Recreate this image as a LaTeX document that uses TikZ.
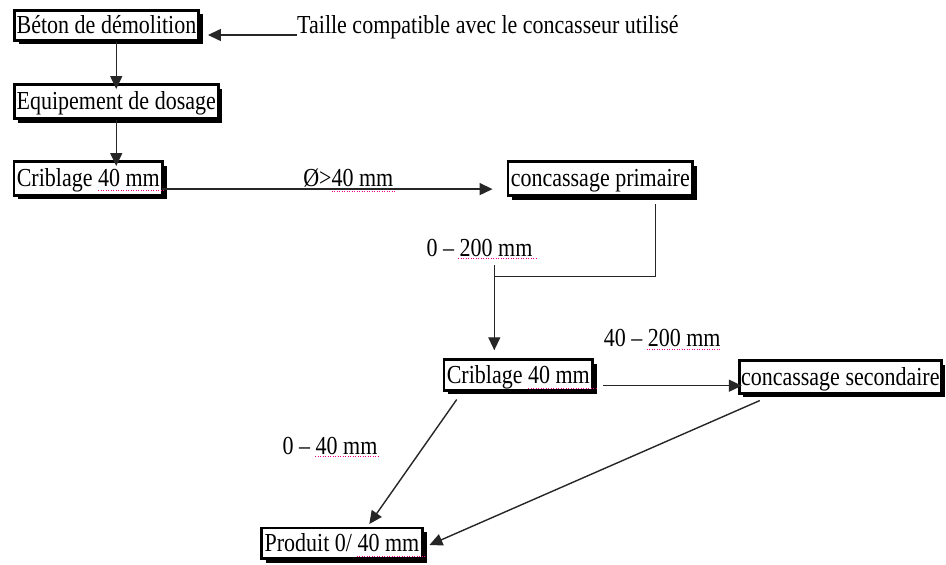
\documentclass[tikz,border=0pt]{standalone}
\usepackage{fontspec}
\setmainfont{Liberation Serif}
\usepackage{graphicx}
\usetikzlibrary{arrows.meta,shadows,calc}
\newcommand\stx[1]{\scalebox{1}[1.18]{#1}}
\begin{document}
\begin{tikzpicture}[x=1pt,y=-1pt,
  box/.style={draw=black, line width=2.9pt, fill=white, inner xsep=0pt, inner ysep=0pt,
    text height=20pt, text depth=3.4pt, font=\fontsize{22}{26}\selectfont,
    drop shadow={shadow xshift=4pt, shadow yshift=-4pt, fill=black, opacity=1}},
  lab/.style={font=\fontsize{22}{26}\selectfont, inner sep=0pt},
  arr/.style={line width=1.4pt, draw=black!85, -{Triangle[length=13pt,width=12pt]}},
  con/.style={line width=1.4pt, draw=black!85},
  spell/.style={draw=magenta, line width=1pt, dash pattern=on 1pt off 1.5pt}
]
\useasboundingbox[fill=white] (0,0) rectangle (946,565);

% boxes
\node[box, minimum width=184pt,   minimum height=29.6pt] (beton) at (106.5,25.25) {\stx{Béton de démolition}};
\node[box, minimum width=203.6pt, minimum height=34pt]   (equip) at (116.25,101.5) {\stx{Equipement de dosage}};
\node[box, minimum width=148.6pt, minimum height=33.6pt] (crib1) at (88.3,178.3) {\stx{Criblage 40 mm}};
\node[box, minimum width=184.6pt, minimum height=34pt]   (prim)  at (600.3,178.5) {\stx{concassage primaire}};
\node[box, minimum width=148.6pt, minimum height=30.6pt] (crib2) at (518.3,375) {\stx{Criblage 40 mm}};
\node[box, minimum width=202pt,   minimum height=32.6pt] (sec)   at (840.3,377) {\stx{concassage secondaire}};
\node[box, minimum width=161pt,   minimum height=30.6pt] (prod)  at (342,543.3) {\stx{Produit 0/ 40 mm}};

% labels
\node[lab, anchor=base west] (taille) at (297,33.3) {\stx{Taille compatible avec le concasseur utilisé}};
\node[lab, anchor=base] (l1) at (348.3,186.7) {\stx{Ø>40 mm}};
\node[lab, anchor=base] (l2) at (479.5,256.7) {\stx{0 – 200 mm}};
\node[lab, anchor=base] (l3) at (662.2,346) {\stx{40 – 200 mm}};
\node[lab, anchor=base] (l4) at (330,454) {\stx{0 – 40 mm}};

% connectors
\draw[arr] ($(taille.base west)+(0,1.7)$) -- ($(taille.base west -| beton.east)+(8,1.7)$);
\draw[arr] (beton.south -| equip.north) -- ($(equip.north)+(0,6)$);
\draw[arr] (equip.south) -- ($(equip.south |- crib1.north)+(0,6)$);
\draw[arr] ($(crib1.east)+(-2,10.8)$) -- ($(prim.west |- crib1.east)+(-14,10.8)$);

\coordinate (k1) at (655.7,276.7);
\coordinate (k2) at (494.3,276.7);
\coordinate (k3) at (494.3,265);
\draw[con] ($(prim.south -| k1)+(0,7)$) -- (k1) -- (k2);
\draw[arr] (k3) -- ($(k3 |- crib2.north)+(0,-8)$);

\draw[arr] ($(crib2.east)+(9,10.7)$) -- ($(sec.west |- crib2.east)+(4,10.7)$);
\draw[arr] ($(crib2.south)+(-61.6,7.8)$) -- ($(prod.north)+(27.3,-2.5)$);
\draw[arr] ($(sec.south)+(-80.5,5.8)$) -- ($(prod.east)+(5.5,1.7)$);

% spell-check dotted underlines
\draw[spell] (98.3,190.7) -- (165,190.7);
\draw[spell] (331.7,191.7) -- (396.7,191.7);
\draw[spell] (458,258.3) -- (536.7,258.3);
\draw[spell] (646.7,349.3) -- (721.7,349.3);
\draw[spell] (528,388.3) -- (596.7,388.3);
\draw[spell] (315,456.7) -- (380,456.7);
\draw[spell] (356.7,556.7) -- (425,556.7);
\end{tikzpicture}
\end{document}
